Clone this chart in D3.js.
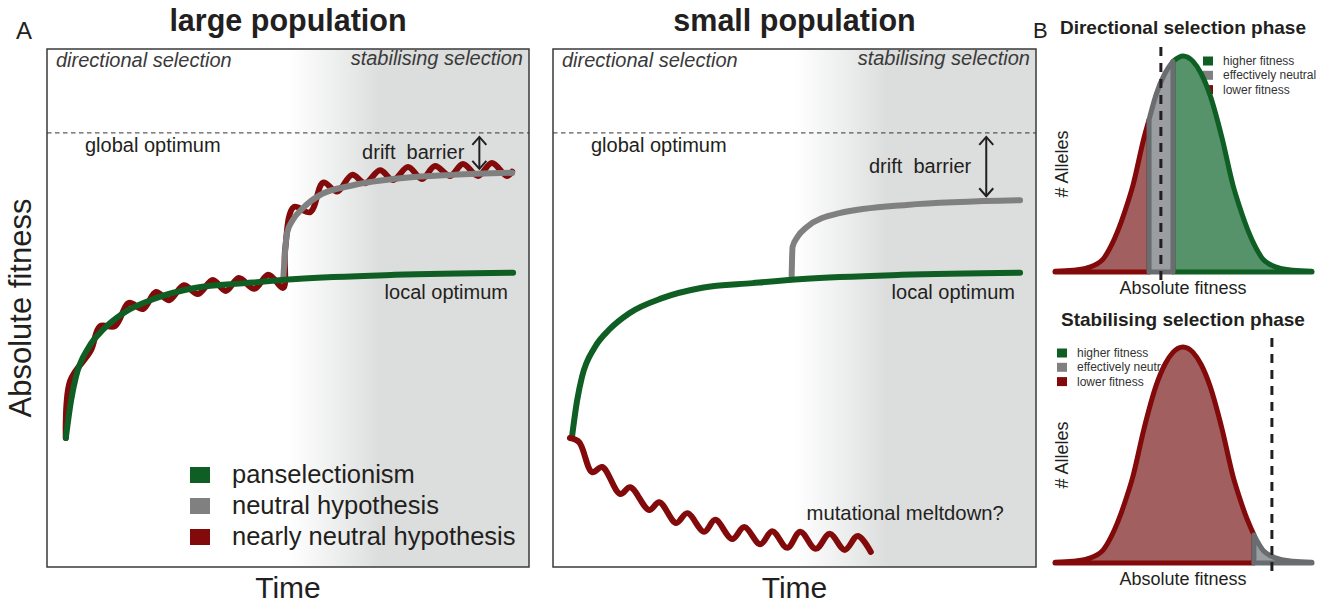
<!DOCTYPE html>
<html>
<head>
<meta charset="utf-8">
<script src="https://cdn.jsdelivr.net/npm/d3@7"></script>
<style>
body { margin: 0; background: #fff; }
svg { display: block; font-family: "Liberation Sans", Arial, sans-serif; }
</style>
</head>
<body>
<div id="chart"></div>
<script>
const width = 1330;
const height = 604;

// Panel A: time (0-100) against absolute fitness (0-100)
const globalOptimum = 83.8;
const panselection = [[3.9,24.9],[5.0,32.2],[6.0,36.7],[8.7,42.5],[11.6,45.8],[15.8,49.0],[22.6,51.9],[30.9,53.9],[41.3,54.8],[51.7,55.6],[72.2,56.4],[96.7,56.8]];
const neutralLarge = [[49.0,55.4],[49.8,64.5],[51.0,67.0],[53.1,69.3],[56.6,71.8],[63.5,73.7],[73.9,75.1],[84.2,75.7],[96.5,76.1]];
const nearlyNeutralLarge = [[3.9,24.9],[4.8,35.9],[9.1,41.8],[11.0,46.5],[14.1,46.5],[17.0,51.0],[19.9,49.8],[22.6,53.1],[25.3,51.5],[28.4,54.4],[31.3,52.7],[34.4,55.4],[37.1,53.3],[39.8,55.8],[43.0,53.7],[45.9,56.4],[49.0,53.9],[49.4,61.2],[51.2,69.5],[54.6,68.5],[57.3,74.2],[60.2,72.5],[63.3,75.7],[66.0,74.1],[69.1,76.6],[71.8,74.7],[74.9,77.2],[77.8,74.9],[80.5,77.4],[83.6,75.5],[86.3,77.8],[89.4,75.5],[92.3,78.0],[95.4,75.5],[96.5,76.3]];
const neutralSmall = [[49.4,55.8],[49.6,61.8],[50.6,63.7],[52.5,65.6],[59.3,68.3],[73.2,69.9],[96.7,70.8]];
const nearlyNeutralSmall = [[3.5,24.9],[5.4,24.1],[8.1,18.3],[10.2,19.3],[13.9,14.1],[16.0,15.4],[19.9,11.0],[22.0,12.5],[25.5,8.5],[27.8,10.4],[31.3,6.8],[33.6,9.1],[37.1,5.4],[39.6,7.7],[42.9,4.4],[45.4,6.9],[48.5,3.7],[51.2,6.8],[54.4,3.5],[57.3,6.4],[60.4,3.3],[63.1,6.0],[65.8,2.9]];
const driftBarrierTime = 89.7;
const hypotheses = ["panselectionism", "neutral hypothesis", "nearly neutral hypothesis"];

// Panel B: allele distribution over absolute fitness (0-100), height in % of peak
const alleleFitness = [0,7.0,12.8,18.7,22.2,25.7,28.0,30.3,34.6,39.3,42.8,45.9,49.8,53.7,56.8,60.3,65.0,69.3,71.6,73.9,77.4,80.9,86.8,92.6,100];
const alleleCount = [0.3,0.8,2,6,13,23,31,40,62,82,92,97.5,100,97.5,92,82,62,40,31,23,13,6,2,0.8,0.3];
const directionalClasses = [["lower",0,36.6],["higher",45.9,100],["neutral",36.6,45.9]];
const directionalOptimum = 41.2;
const stabilisingClasses = [["lower",0,77.4],["neutral",77.4,100]];
const stabilisingOptimum = 84.4;
const fitnessClasses = ["higher fitness", "effectively neutral", "lower fitness"];

const ink = "#231f20";
const lineColour = {green: "#0f5e24", gray: "#808081", red: "#820a0a"};
const classStroke = {higher: "#0f5e24", neutral: "#6a6d6f", lower: "#820a0a"};
const classFill = {higher: "#57936a", neutral: "#9b9ea1", lower: "#a15f5f"};

var svg = d3.select("#chart").append("svg")
  .attr("width", width)
  .attr("height", height)
  .style("background", "#fff");
const defs = svg.append("defs");

const y = d3.scaleLinear().domain([0, 100]).range([567, 49]);
const xLarge = d3.scaleLinear().domain([0, 100]).range([47, 529]);
const xSmall = d3.scaleLinear().domain([0, 100]).range([553, 1036]);

function drawPanel(id, x, title, series, neutral) {
  const g = svg.append("g");
  const grad = defs.append("linearGradient").attr("id", "grad-" + id)
    .attr("gradientUnits", "userSpaceOnUse")
    .attr("x1", x(50)).attr("x2", x(69)).attr("y1", 0).attr("y2", 0);
  grad.append("stop").attr("offset", 0).attr("stop-color", "#ffffff");
  grad.append("stop").attr("offset", 0.6).attr("stop-color", "#ebecec");
  grad.append("stop").attr("offset", 1).attr("stop-color", "#dcdddd");

  g.append("rect")
    .attr("x", x(0)).attr("y", y(100))
    .attr("width", x(100) - x(0)).attr("height", y(0) - y(100))
    .attr("fill", "url(#grad-" + id + ")")
    .attr("stroke", "#3a3a3a").attr("stroke-width", 1.5);

  g.append("line")
    .attr("x1", x(0)).attr("x2", x(100))
    .attr("y1", y(globalOptimum)).attr("y2", y(globalOptimum))
    .attr("stroke", "#333").attr("stroke-width", 1).attr("stroke-dasharray", "4.5,3.5");

  g.append("text").text(title)
    .attr("x", x(50)).attr("y", 31)
    .attr("text-anchor", "middle").attr("font-size", 30.5).attr("font-weight", "bold").attr("fill", ink);

  g.append("text").text("directional selection")
    .attr("x", x(0) + 9).attr("y", 67)
    .attr("font-size", 20).attr("font-style", "italic").attr("fill", "#3a3a3a");
  g.append("text").text("stabilising selection")
    .attr("x", x(100) - 6).attr("y", 65).attr("text-anchor", "end")
    .attr("font-size", 20).attr("font-style", "italic").attr("fill", "#3a3a3a");

  g.append("text").text("global optimum")
    .attr("x", x(0) + 38).attr("y", y(globalOptimum) + 19)
    .attr("font-size", 20).attr("fill", ink);

  const line = d3.line()
    .x(function(d) { return x(d[0]); })
    .y(function(d) { return y(d[1]); });

  series.forEach(function(s) {
    g.append("path")
      .attr("d", line.curve(s.curve)(s.data))
      .attr("fill", "none")
      .attr("stroke", s.colour).attr("stroke-width", 6)
      .attr("stroke-linecap", "round").attr("stroke-linejoin", "round");
  });

  const greenEnd = panselection[panselection.length - 1];
  g.append("text").text("local optimum")
    .attr("x", x(100) - 21).attr("y", y(greenEnd[1]) + 26)
    .attr("text-anchor", "end").attr("font-size", 20).attr("fill", ink);

  // drift barrier arrow between global optimum and the end of the neutral curve
  const ax = x(driftBarrierTime);
  const top = y(globalOptimum) + 4;
  const bottom = y(neutral[neutral.length - 1][1]) - 4;
  const arrow = g.append("g").attr("stroke", ink).attr("stroke-width", 2).attr("fill", "none");
  arrow.append("line").attr("x1", ax).attr("x2", ax).attr("y1", top).attr("y2", bottom);
  arrow.append("path").attr("d", "M" + (ax - 7) + "," + (top + 8) + "L" + ax + "," + top + "L" + (ax + 7) + "," + (top + 8));
  arrow.append("path").attr("d", "M" + (ax - 7) + "," + (bottom - 8) + "L" + ax + "," + bottom + "L" + (ax + 7) + "," + (bottom - 8));
  g.append("text").text("drift\u00a0 barrier")
    .attr("x", ax - 15).attr("y", (top + bottom) / 2 + 6)
    .attr("text-anchor", "end").attr("font-size", 20).attr("fill", ink);

  g.append("text").text("Time")
    .attr("x", x(50)).attr("y", 598)
    .attr("text-anchor", "middle").attr("font-size", 30).attr("fill", ink);
  return g;
}

const wave = d3.curveCatmullRom.alpha(0.5);

const large = drawPanel("large", xLarge, "large population", [
  {data: nearlyNeutralLarge, colour: lineColour.red, curve: wave},
  {data: neutralLarge, colour: lineColour.gray, curve: d3.curveMonotoneX},
  {data: panselection, colour: lineColour.green, curve: d3.curveMonotoneX}
], neutralLarge);

const small = drawPanel("small", xSmall, "small population", [
  {data: neutralSmall, colour: lineColour.gray, curve: d3.curveMonotoneX},
  {data: panselection, colour: lineColour.green, curve: d3.curveMonotoneX},
  {data: nearlyNeutralSmall, colour: lineColour.red, curve: wave}
], neutralSmall);

small.append("text").text("mutational meltdown?")
  .attr("x", xSmall(52.5)).attr("y", 520)
  .attr("font-size", 20.3).attr("fill", ink);

// legend of panel A
[lineColour.green, lineColour.gray, lineColour.red].forEach(function(c, i) {
  large.append("rect")
    .attr("x", xLarge(0) + 143).attr("y", 467 + i * 31)
    .attr("width", 20).attr("height", 16).attr("fill", c);
  large.append("text").text(hypotheses[i])
    .attr("x", xLarge(0) + 185).attr("y", 483 + i * 31)
    .attr("font-size", 25.5).attr("fill", ink);
});

svg.append("text").text("Absolute fitness")
  .attr("transform", "translate(31,308) rotate(-90)")
  .attr("text-anchor", "middle").attr("font-size", 31).attr("fill", ink);
svg.append("text").text("A").attr("x", 16).attr("y", 39).attr("font-size", 24).attr("fill", ink);
svg.append("text").text("B").attr("x", 1033).attr("y", 38).attr("font-size", 22).attr("fill", ink);

// Panel B
const xB = d3.scaleLinear().domain([0, 100]).range([1055, 1312]);

function heightAt(v) {
  const i = d3.bisectLeft(alleleFitness, v);
  if (alleleFitness[i] === v || i === 0) return alleleCount[i];
  const t = (v - alleleFitness[i - 1]) / (alleleFitness[i] - alleleFitness[i - 1]);
  return alleleCount[i - 1] + t * (alleleCount[i] - alleleCount[i - 1]);
}

function classPoints(from, to) {
  const pts = [[from, heightAt(from)]];
  alleleFitness.forEach(function(f, i) {
    if (f > from && f < to) pts.push([f, alleleCount[i]]);
  });
  pts.push([to, heightAt(to)]);
  return pts;
}

function drawDistribution(opts) {
  const yB = d3.scaleLinear().domain([0, 100]).range([opts.base, opts.base - 216]);
  const g = svg.append("g");

  g.append("text").text(opts.title)
    .attr("x", xB(49.8)).attr("y", opts.titleY)
    .attr("text-anchor", "middle").attr("font-size", 19).attr("font-weight", "bold").attr("fill", ink);

  fitnessClasses.forEach(function(label, i) {
    const c = [lineColour.green, lineColour.gray, lineColour.red][i];
    g.append("rect")
      .attr("x", opts.legendX).attr("y", opts.legendY + i * 14.3 - 4.5)
      .attr("width", 10).attr("height", 9).attr("fill", c);
    g.append("text").text(label)
      .attr("x", opts.legendX + 20).attr("y", opts.legendY + i * 14.3 + 4)
      .attr("font-size", 12).attr("fill", "#333");
  });

  const area = d3.area()
    .x(function(d) { return xB(d[0]); })
    .y0(yB(0))
    .y1(function(d) { return yB(d[1]); })
    .curve(d3.curveMonotoneX);

  opts.classes.forEach(function(k) {
    g.append("path")
      .attr("d", area(classPoints(k[1], k[2])))
      .attr("fill", classFill[k[0]])
      .attr("stroke", classStroke[k[0]]).attr("stroke-width", 5)
      .attr("stroke-linejoin", "round").attr("stroke-linecap", "round");
  });

  g.append("line")
    .attr("x1", xB(opts.optimum)).attr("x2", xB(opts.optimum))
    .attr("y1", opts.base - 225).attr("y2", opts.base + 9)
    .attr("stroke", ink).attr("stroke-width", 3).attr("stroke-dasharray", "9,7");

  g.append("text").text("# Alleles")
    .attr("transform", "translate(1068," + (opts.base - 108) + ") rotate(-90)")
    .attr("text-anchor", "middle").attr("font-size", 18).attr("fill", ink);
  g.append("text").text("Absolute fitness")
    .attr("x", xB(49.8)).attr("y", opts.base + 22)
    .attr("text-anchor", "middle").attr("font-size", 18).attr("fill", ink);
}

drawDistribution({
  title: "Directional selection phase", titleY: 34, base: 272,
  classes: directionalClasses, optimum: directionalOptimum,
  legendX: 1203, legendY: 61
});
drawDistribution({
  title: "Stabilising selection phase", titleY: 326, base: 563,
  classes: stabilisingClasses, optimum: stabilisingOptimum,
  legendX: 1057, legendY: 353
});
</script>
</body>
</html>
